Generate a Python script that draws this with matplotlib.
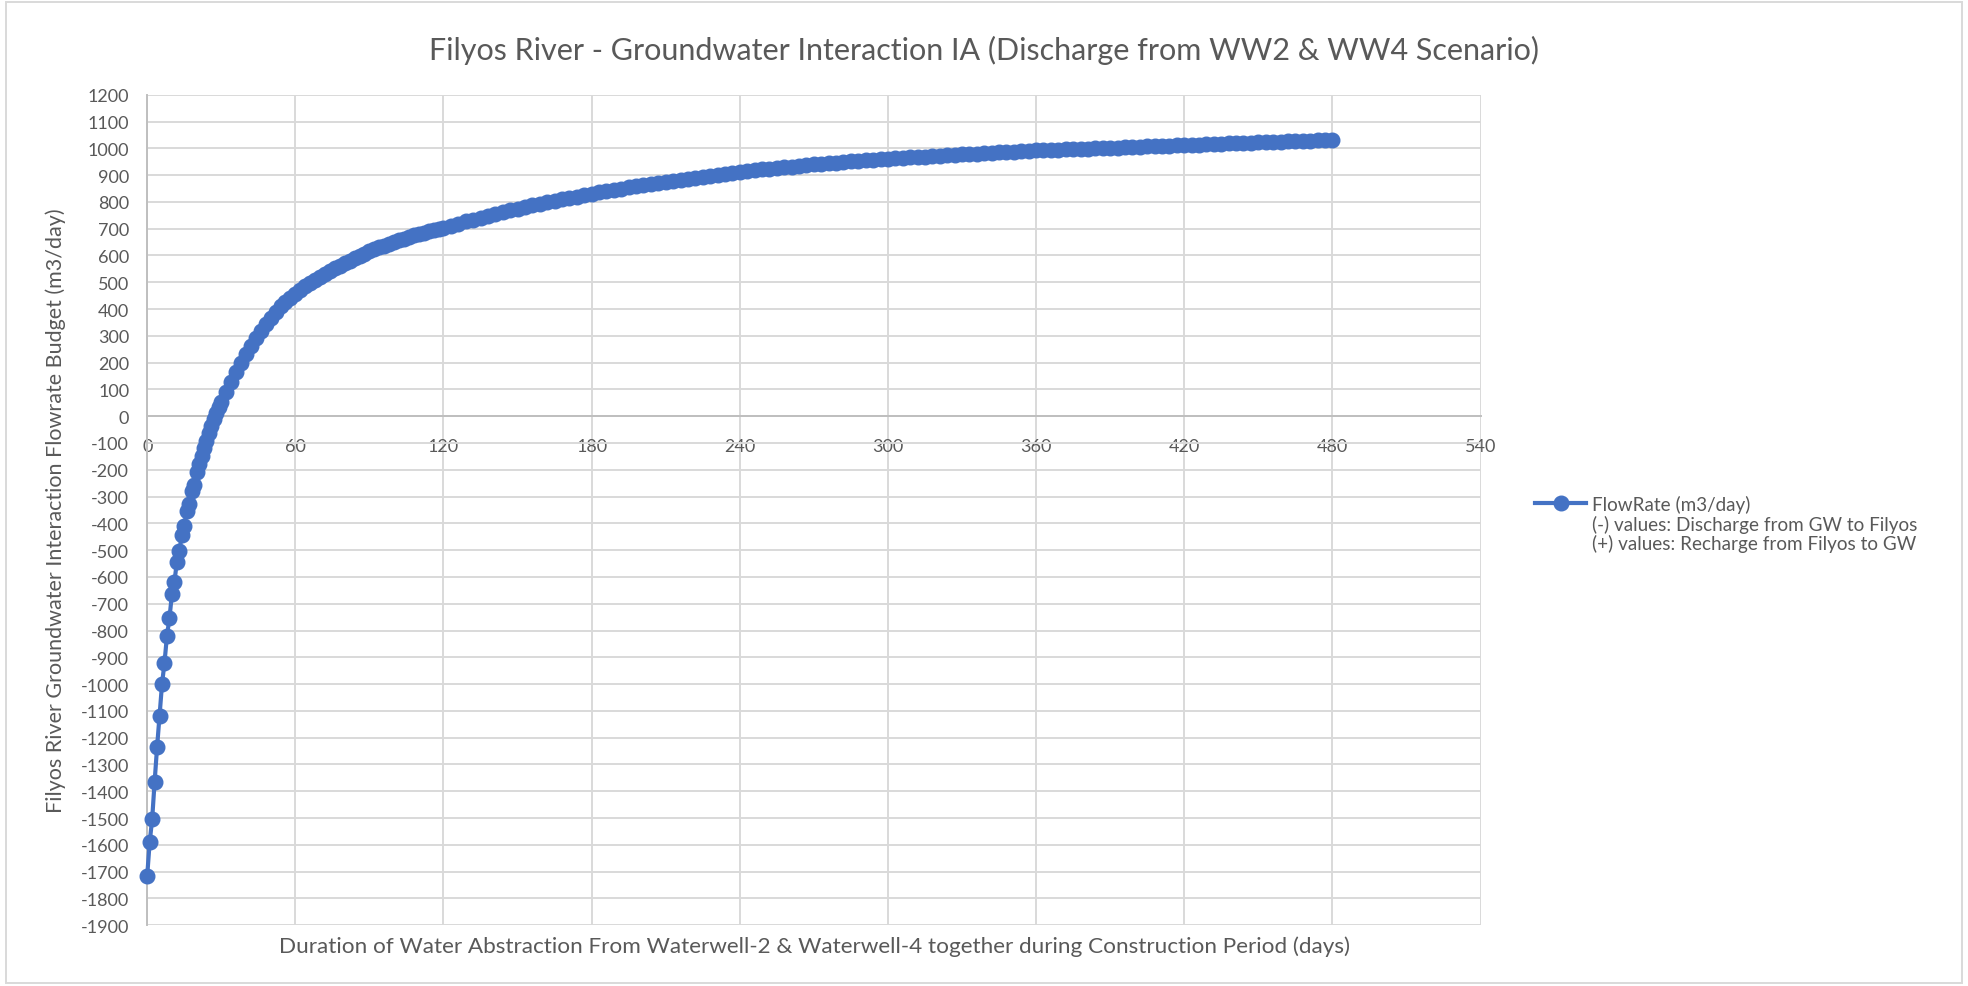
import matplotlib
matplotlib.use('Agg')
import matplotlib.pyplot as plt
from matplotlib.lines import Line2D
from matplotlib.patches import Rectangle

plt.rcParams['font.family'] = ['Lato', 'DejaVu Sans']
plt.rcParams['axes.unicode_minus'] = False

# model output: daily for the first month, then sampled every 2 / 3 days
days = list(range(0, 31)) + list(range(32, 121, 2)) + list(range(123, 481, 3))

flow_rate = [
    # days 0-30
    -1715, -1590, -1505, -1365, -1235, -1120, -1000, -920, -820, -755,
    -665, -620, -545, -505, -445, -408, -355, -328, -280, -255,
    -210, -178, -150, -120, -92, -62, -35, -10, 12, 33,
    53,
    # days 32-120
    90, 128, 164, 199, 232, 263, 292, 319, 344, 368,
    390, 410, 427, 443, 458, 472, 485, 497, 509, 520,
    531, 542, 552, 562, 572, 581, 590, 599, 607, 615,
    623, 630, 637, 644, 651, 657, 663, 669, 675, 680,
    685, 690, 695, 699, 703,
    # days 123-480
    711, 719, 727, 734, 741, 748, 755, 762, 768, 775,
    781, 787, 793, 799, 804, 810, 815, 820, 826, 831,
    836, 840, 845, 849, 854, 858, 862, 866, 870, 874,
    878, 882, 886, 890, 893, 897, 900, 905, 908, 911,
    915, 918, 921, 924, 927, 930, 932, 935, 937, 940,
    942, 945, 947, 949, 951, 953, 955, 957, 959, 961,
    963, 964, 966, 968, 969, 971, 973, 974, 976, 977,
    979, 980, 982, 983, 985, 986, 988, 989, 991, 992,
    993, 994, 995, 996, 997, 998, 999, 1000, 1001, 1002,
    1003, 1004, 1005, 1006, 1007, 1008, 1009, 1010, 1011, 1012,
    1013, 1014, 1015, 1016, 1017, 1018, 1019, 1020, 1021, 1022,
    1023, 1024, 1025, 1026, 1027, 1028, 1029, 1030, 1031, 1032,
]
assert len(days) == len(flow_rate)

x_ticks = list(range(0, 541, 60))
y_ticks = list(range(-1900, 1201, 100))

title = 'Filyos River - Groundwater Interaction IA (Discharge from WW2 & WW4 Scenario)'
x_label = ('Duration of Water Abstraction From Waterwell-2 & Waterwell-4 together '
           'during Construction Period (days)')
y_label = 'Filyos River Groundwater Interaction Flowrate Budget (m3/day)'
legend_labels = ['FlowRate (m3/day)',
                 '(-) values: Discharge from GW to Filyos',
                 '(+) values: Recharge from Filyos to GW']

blue = '#4472C4'
text_grey = '#595959'
grid_grey = '#d9d9d9'

fig = plt.figure(figsize=(19.68, 9.87), dpi=100)
ax = fig.add_axes([0.0748, 0.0616, 0.6775, 0.8414])

ax.set_xlim(0, 540)
ax.set_ylim(-1900, 1200)
ax.set_xticks(x_ticks)
ax.set_yticks(y_ticks)
ax.grid(True, color=grid_grey, lw=1.4, zorder=0)
ax.set_axisbelow(True)

for side in ['top', 'right']:
    ax.spines[side].set_visible(False)
ax.spines['bottom'].set_position(('data', 0))
for side in ['bottom', 'left']:
    ax.spines[side].set_color('#bfbfbf')
    ax.spines[side].set_linewidth(1.4)

ax.tick_params(length=0, colors=text_grey, labelsize=13)
ax.tick_params(axis='x', pad=16)
ax.tick_params(axis='y', pad=13)

ax.plot(days, flow_rate, color=blue, lw=3, marker='o', ms=10.5,
        zorder=3, clip_on=False)

fig.text(0.5, 0.949, title, ha='center', va='center', fontsize=22, color=text_grey)
fig.text(0.4138, 1 - 947 / 987, x_label, ha='center', va='center',
         fontsize=16.2, color=text_grey)
fig.text(56 / 1968, 0.4823, y_label, ha='center', va='center', rotation=90,
         fontsize=15.5, color=text_grey)

handles = [Line2D([], [], color=blue, lw=3, marker='o', ms=10.5),
           Line2D([], [], ls='none'),
           Line2D([], [], ls='none')]
ax.legend(handles, legend_labels, loc='upper left',
          bbox_to_anchor=(1535 / 1968, 1 - 496 / 987),
          bbox_transform=fig.transFigure, frameon=False, fontsize=13.6,
          labelcolor=text_grey, handlelength=2.7, handletextpad=0.3,
          labelspacing=0.08, borderpad=0, borderaxespad=0)

fig.add_artist(Rectangle((6 / 1968, 3 / 987), 1956 / 1968, 981 / 987,
                         transform=fig.transFigure, fill=False,
                         ec=grid_grey, lw=1.4))

fig.savefig('out.png', dpi=100)
